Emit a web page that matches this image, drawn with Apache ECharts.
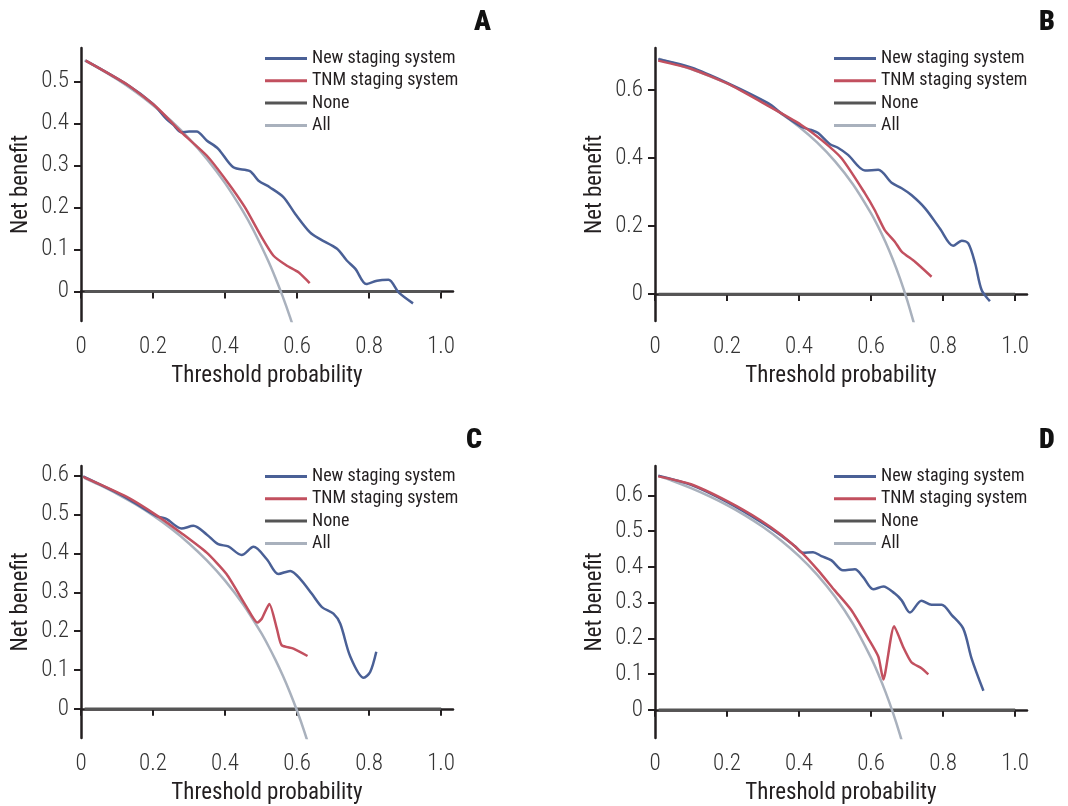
<!DOCTYPE html>
<html>
<head>
<meta charset="utf-8">
<script src="https://cdn.jsdelivr.net/npm/echarts@6/dist/echarts.min.js"></script>
<style>
  html, body { margin: 0; padding: 0; background: #fff; }
  #chart { width: 1068px; height: 806px; }
</style>
</head>
<body>
<div id="chart"></div>
<script>
// Panel A
const aNewX = [0.013, 0.13, 0.2, 0.237, 0.255, 0.279, 0.3, 0.321, 0.349, 0.381, 0.423, 0.469, 0.493, 0.525, 0.562, 0.595, 0.636, 0.664, 0.711, 0.738, 0.762, 0.792, 0.822, 0.854, 0.882, 0.922];
const aNewY = [0.55, 0.492, 0.447, 0.411, 0.398, 0.379, 0.381, 0.381, 0.36, 0.34, 0.296, 0.287, 0.264, 0.248, 0.225, 0.185, 0.141, 0.125, 0.102, 0.074, 0.054, 0.018, 0.026, 0.028, -0.002, -0.028];
const aTnmX = [0.013, 0.13, 0.21, 0.279, 0.349, 0.404, 0.455, 0.502, 0.534, 0.571, 0.604, 0.635];
const aTnmY = [0.55, 0.492, 0.439, 0.379, 0.324, 0.264, 0.201, 0.129, 0.086, 0.062, 0.046, 0.02];
const aAllX = [0.01, 0.05, 0.1, 0.15, 0.2, 0.25, 0.3, 0.35, 0.4, 0.45, 0.48, 0.52, 0.54, 0.56, 0.58, 0.6];
const aAllY = [0.5505, 0.5316, 0.5056, 0.4765, 0.4438, 0.4067, 0.3643, 0.3154, 0.2583, 0.1909, 0.1442, 0.0729, 0.0326, -0.0113, -0.0595, -0.1125];

// Panel B
const bNewX = [0.009, 0.1, 0.202, 0.314, 0.351, 0.406, 0.434, 0.453, 0.485, 0.508, 0.536, 0.583, 0.62, 0.657, 0.685, 0.712, 0.75, 0.791, 0.828, 0.852, 0.87, 0.889, 0.907, 0.93];
const bNewY = [0.69, 0.666, 0.62, 0.561, 0.531, 0.492, 0.482, 0.473, 0.441, 0.43, 0.409, 0.363, 0.365, 0.327, 0.311, 0.291, 0.252, 0.193, 0.142, 0.157, 0.149, 0.09, 0.012, -0.021];
const bTnmX = [0.009, 0.1, 0.202, 0.314, 0.406, 0.462, 0.518, 0.583, 0.61, 0.638, 0.666, 0.685, 0.722, 0.768];
const bTnmY = [0.686, 0.662, 0.618, 0.553, 0.497, 0.453, 0.399, 0.296, 0.247, 0.188, 0.154, 0.125, 0.095, 0.051];
const bAllX = [0.01, 0.05, 0.1, 0.15, 0.2, 0.25, 0.3, 0.35, 0.4, 0.45, 0.5, 0.55, 0.6, 0.62, 0.64, 0.66, 0.68, 0.7, 0.72];
const bAllY = [0.6919, 0.6789, 0.6611, 0.6412, 0.6188, 0.5933, 0.5643, 0.5308, 0.4917, 0.4455, 0.39, 0.3222, 0.2375, 0.1974, 0.1528, 0.1029, 0.0469, -0.0167, -0.0893];

// Panel C
const cNewX = [0.006, 0.126, 0.21, 0.237, 0.279, 0.312, 0.349, 0.381, 0.409, 0.446, 0.479, 0.516, 0.548, 0.581, 0.609, 0.641, 0.669, 0.701, 0.72, 0.748, 0.785, 0.803, 0.82];
const cNewY = [0.598, 0.543, 0.496, 0.489, 0.464, 0.471, 0.449, 0.424, 0.418, 0.396, 0.417, 0.385, 0.347, 0.355, 0.334, 0.296, 0.262, 0.245, 0.219, 0.134, 0.08, 0.095, 0.147];
const cTnmX = [0.006, 0.126, 0.21, 0.279, 0.349, 0.404, 0.46, 0.49, 0.502, 0.523, 0.544, 0.557, 0.59, 0.629];
const cTnmY = [0.597, 0.546, 0.498, 0.452, 0.402, 0.347, 0.262, 0.222, 0.232, 0.27, 0.206, 0.164, 0.155, 0.136];
const cAllX = [0.01, 0.05, 0.1, 0.15, 0.2, 0.25, 0.3, 0.35, 0.4, 0.45, 0.5, 0.52, 0.54, 0.56, 0.58, 0.6, 0.62, 0.64];
const cAllY = [0.5939, 0.5768, 0.5533, 0.5271, 0.4975, 0.464, 0.4257, 0.3815, 0.33, 0.2691, 0.196, 0.1625, 0.1261, 0.0864, 0.0428, -0.005, -0.0579, -0.1167];

// Panel D
const dNewX = [0.009, 0.1, 0.202, 0.295, 0.351, 0.388, 0.411, 0.439, 0.462, 0.49, 0.522, 0.555, 0.578, 0.606, 0.634, 0.666, 0.685, 0.708, 0.74, 0.768, 0.796, 0.824, 0.856, 0.879, 0.912];
const dNewY = [0.655, 0.629, 0.58, 0.525, 0.487, 0.458, 0.439, 0.441, 0.43, 0.418, 0.39, 0.393, 0.371, 0.337, 0.345, 0.325, 0.306, 0.272, 0.305, 0.294, 0.294, 0.265, 0.227, 0.144, 0.053];
const dTnmX = [0.009, 0.1, 0.202, 0.295, 0.351, 0.406, 0.453, 0.499, 0.545, 0.592, 0.62, 0.634, 0.664, 0.689, 0.712, 0.74, 0.759];
const dTnmY = [0.653, 0.631, 0.583, 0.529, 0.489, 0.441, 0.39, 0.334, 0.279, 0.2, 0.149, 0.085, 0.234, 0.176, 0.133, 0.116, 0.099];
const dAllX = [0.01, 0.05, 0.1, 0.15, 0.2, 0.25, 0.3, 0.35, 0.4, 0.45, 0.5, 0.55, 0.6, 0.62, 0.64, 0.66, 0.68, 0.7];
const dAllY = [0.6545, 0.64, 0.62, 0.5977, 0.5725, 0.544, 0.5114, 0.4738, 0.43, 0.3782, 0.316, 0.24, 0.145, 0.1, 0.05, -0.0059, -0.0688, -0.14];

const noneX = [0.01, 1.0];
const noneY = [0, 0];

const xTicks = [0, 0.2, 0.4, 0.6, 0.8, 1.0];
const yTicksA = [0, 0.1, 0.2, 0.3, 0.4, 0.5];
const yTicksB = [0, 0.2, 0.4, 0.6];
const yTicksC = [0, 0.1, 0.2, 0.3, 0.4, 0.5, 0.6];
const yTicksD = [0, 0.1, 0.2, 0.3, 0.4, 0.5, 0.6];

const panelLetters = ["A", "B", "C", "D"];
const seriesNames = ["New staging system", "TNM staging system", "None", "All"];

const NARROW = "'Liberation Sans Narrow', 'Roboto Condensed', Roboto, sans-serif";
const COLORS = { New: "#4a6096", TNM: "#c2505f", None: "#555555", All: "#a9b1bd" };

const zip = (xs, ys) => xs.map((x, i) => [x, ys[i]]);
const fmt = v => (v === 0 ? "0" : v.toFixed(1));

const panels = [
  { left: 81, top: 48, yMin: -0.07, yMax: 0.58, yTicks: yTicksA, newD: zip(aNewX, aNewY), tnmD: zip(aTnmX, aTnmY), allD: zip(aAllX, aAllY), legLeft: 265, legTop: 49.5, tl: 474, tt: 9 },
  { left: 655, top: 48, yMin: -0.079, yMax: 0.723, yTicks: yTicksB, newD: zip(bNewX, bNewY), tnmD: zip(bTnmX, bTnmY), allD: zip(bAllX, bAllY), legLeft: 834, legTop: 49.5, tl: 1039, tt: 9 },
  { left: 81, top: 466, yMin: -0.075, yMax: 0.625, yTicks: yTicksC, newD: zip(cNewX, cNewY), tnmD: zip(cTnmX, cTnmY), allD: zip(cAllX, cAllY), legLeft: 265, legTop: 467.5, tl: 466, tt: 427 },
  { left: 655, top: 466, yMin: -0.079, yMax: 0.682, yTicks: yTicksD, newD: zip(dNewX, dNewY), tnmD: zip(dTnmX, dTnmY), allD: zip(dAllX, dAllY), legLeft: 834, legTop: 467.5, tl: 1039, tt: 427 }
];

const chart = echarts.init(document.getElementById("chart"), null, { renderer: "canvas" });

const axisLineStyle = { color: "#231f20", width: 2.5 };
const option = {
  animation: false,
  backgroundColor: "#fff",
  title: panels.map((p, i) => ({
    text: panelLetters[i],
    left: p.tl,
    top: p.tt,
    padding: 0,
    textStyle: { fontFamily: NARROW, fontWeight: 900, fontSize: 28, color: "#111" }
  })),
  legend: panels.map(p => ({
    data: seriesNames,
    orient: "vertical",
    left: p.legLeft,
    top: p.legTop,
    padding: 0,
    icon: "rect",
    itemWidth: 42,
    itemHeight: 3,
    itemGap: 4.3,
    selectedMode: false,
    textStyle: { fontFamily: NARROW, fontSize: 18, lineHeight: 17, color: "#231f20" }
  })),
  grid: panels.map(p => ({ left: p.left, top: p.top, width: 372, height: 273 })),
  xAxis: panels.map((p, i) => ({
    gridIndex: i,
    type: "value",
    min: 0,
    max: 1.033,
    name: "Threshold probability",
    nameLocation: "middle",
    nameGap: 44,
    nameTextStyle: { fontFamily: NARROW, fontSize: 23, color: "#231f20" },
    splitLine: { show: false },
    axisLine: { lineStyle: axisLineStyle },
    axisTick: { customValues: xTicks, length: 7, lineStyle: { color: "#231f20", width: 2 } },
    axisLabel: { customValues: xTicks, formatter: fmt, margin: 15, fontFamily: NARROW, fontWeight: 300, fontSize: 23, color: "#333" }
  })),
  yAxis: panels.map((p, i) => ({
    gridIndex: i,
    type: "value",
    min: p.yMin,
    max: p.yMax,
    name: "Net benefit",
    nameLocation: "middle",
    nameGap: 48,
    nameTextStyle: { fontFamily: NARROW, fontSize: 23, color: "#231f20" },
    splitLine: { show: false },
    axisLine: { show: true, lineStyle: axisLineStyle },
    axisTick: { show: true, customValues: p.yTicks, length: 7, lineStyle: { color: "#231f20", width: 2 } },
    axisLabel: { customValues: p.yTicks, formatter: fmt, margin: 12, fontFamily: NARROW, fontWeight: 300, fontSize: 23, color: "#333" }
  })),
  series: []
};

panels.forEach((p, i) => {
  const base = { type: "line", xAxisIndex: i, yAxisIndex: i, showSymbol: false, symbol: "none", clip: true };
  option.series.push(
    { ...base, name: "None", data: zip(noneX, noneY), lineStyle: { color: COLORS.None, width: 2.5 }, itemStyle: { color: COLORS.None } },
    { ...base, name: "All", data: p.allD, smooth: 0.3, lineStyle: { color: COLORS.All, width: 2.5 }, itemStyle: { color: COLORS.All } },
    { ...base, name: "New staging system", data: p.newD, smooth: 0.3, lineStyle: { color: COLORS.New, width: 2.5 }, itemStyle: { color: COLORS.New } },
    { ...base, name: "TNM staging system", data: p.tnmD, smooth: 0.2, lineStyle: { color: COLORS.TNM, width: 2.5 }, itemStyle: { color: COLORS.TNM } }
  );
});

chart.setOption(option);
</script>
</body>
</html>
